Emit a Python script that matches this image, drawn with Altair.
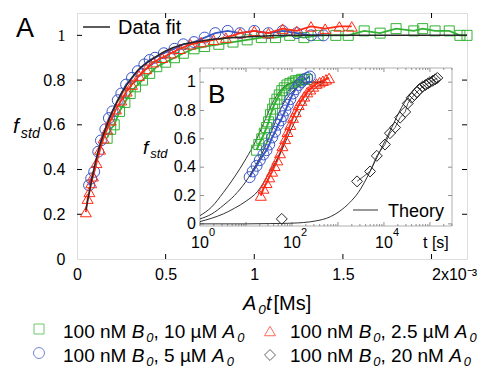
import altair as alt
import pandas as pd

FONT = "Liberation Sans"
GREEN, BLUE, RED, DARK = "#33b233", "#3a55c6", "#ff2b17", "#262626"

# ---------------- panel A (x = A0*t in units of 1e-3 Ms) ----------------
fit_x = [0.05, 0.07, 0.1, 0.13, 0.16, 0.2, 0.25, 0.3, 0.35, 0.4, 0.5, 0.6, 0.7, 0.8, 1.0, 1.2, 1.5, 1.8, 2.2]
fit_y = [0.22, 0.30, 0.42, 0.51, 0.58, 0.66, 0.74, 0.80, 0.85, 0.88, 0.93, 0.96, 0.975, 0.985, 0.995, 1.0, 1.0, 1.0, 1.0]

green_x = [0.17, 0.19, 0.21, 0.24, 0.27, 0.30, 0.33, 0.37, 0.41, 0.45, 0.50, 0.55, 0.60, 0.66, 0.72, 0.80,
           0.88, 0.96, 1.04, 1.12, 1.20, 1.28, 1.36, 1.46, 1.53, 1.62, 1.71, 1.80, 1.90, 1.95, 2.02, 2.10, 2.16, 2.2]
green_y = [0.54, 0.58, 0.60, 0.66, 0.70, 0.74, 0.77, 0.80, 0.83, 0.86, 0.88, 0.90, 0.92, 0.94, 0.95, 0.96,
           0.97, 0.98, 0.99, 0.99, 1.00, 0.99, 1.00, 1.00, 1.00, 1.02, 1.01, 1.03, 1.02, 1.03, 1.02, 1.02, 1.00, 1.0]

blue_x = [0.068, 0.08, 0.097, 0.12, 0.135, 0.16, 0.18, 0.20, 0.23, 0.25, 0.277, 0.31, 0.343, 0.38, 0.41,
          0.44, 0.49, 0.55, 0.60, 0.66, 0.72, 0.78, 0.85, 0.92, 1.00, 1.08, 1.16, 1.24, 1.32, 1.39]
blue_y = [0.33, 0.36, 0.39, 0.48, 0.53, 0.58, 0.63, 0.66, 0.71, 0.74, 0.78, 0.81, 0.84, 0.87, 0.89,
          0.90, 0.92, 0.94, 0.96, 0.97, 0.99, 1.01, 1.02, 1.01, 1.02, 1.01, 1.02, 1.01, 1.00, 1.00]

red_x = [0.05, 0.06, 0.07, 0.08, 0.09, 0.11, 0.13, 0.15, 0.17, 0.19, 0.22, 0.25, 0.28, 0.31, 0.35, 0.39,
         0.43, 0.48, 0.53, 0.58, 0.64, 0.70, 0.77, 0.84, 0.92, 1.00, 1.08, 1.16, 1.24, 1.32, 1.40, 1.48, 1.55]
red_y = [0.21, 0.27, 0.30, 0.34, 0.37, 0.43, 0.49, 0.54, 0.58, 0.62, 0.67, 0.71, 0.75, 0.78, 0.82, 0.85,
         0.88, 0.90, 0.92, 0.94, 0.96, 0.97, 0.98, 0.99, 1.01, 1.02, 1.01, 1.03, 1.02, 1.04, 1.03, 1.04, 1.04]

MAIN_XTICKS = [0, 0.5, 1, 1.5, 2]
MAIN_YTICKS = [0, 0.2, 0.4, 0.6, 0.8, 1]

# ---------------- panel B (inset, t in seconds) ----------------
in_green_t = [17, 19, 22, 25, 28, 31, 34, 38, 42, 47, 53, 60, 68, 78, 90, 105, 120, 140, 160, 185, 215]
in_green_f = [0.52, 0.56, 0.60, 0.64, 0.68, 0.72, 0.77, 0.81, 0.85, 0.88, 0.91, 0.94, 0.96, 0.98, 0.99,
              1.00, 1.01, 1.01, 1.02, 1.02, 1.02]

in_blue_t = [12, 14, 17, 20, 24, 28, 32, 37, 43, 50, 57, 63, 72, 81, 92, 105, 120, 140, 160, 185, 215, 245]
in_blue_f = [0.33, 0.37, 0.41, 0.45, 0.49, 0.52, 0.56, 0.61, 0.65, 0.70, 0.73, 0.76, 0.80, 0.84, 0.88,
             0.92, 0.95, 0.98, 1.00, 1.02, 1.03, 1.04]

in_red_t = [21, 24, 28, 32, 37, 42, 48, 55, 62, 71, 80, 92, 105, 120, 140, 160, 185, 215, 250, 290, 340,
            400, 470, 550, 640]
in_red_f = [0.20, 0.25, 0.29, 0.33, 0.37, 0.41, 0.45, 0.50, 0.55, 0.60, 0.65, 0.70, 0.75, 0.79, 0.84,
            0.87, 0.90, 0.93, 0.95, 0.97, 0.99, 1.00, 1.01, 1.02, 1.03]

in_black_t = [60, 2600, 5000, 7000, 10500, 13500, 17500, 22500, 29000, 33000, 40000, 46000, 52000,
              60000, 70000, 80000, 90000, 100000, 115000, 130000, 145000]
in_black_f = [0.035, 0.30, 0.37, 0.48, 0.56, 0.64, 0.68, 0.75, 0.79, 0.85, 0.89, 0.91, 0.93,
              0.95, 0.97, 0.98, 0.99, 1.00, 1.01, 1.02, 1.03]

th1_t = [1, 1.8, 3.2, 5.6, 10, 16, 25, 40, 63, 100, 160, 525]
th1_f = [0.058, 0.12, 0.22, 0.33, 0.46, 0.58, 0.72, 0.87, 0.96, 0.995, 1.0, 1.0]
th2_t = [1, 1.8, 3.2, 5.6, 10, 16, 25, 40, 63, 100, 160, 250, 525]
th2_f = [0.035, 0.07, 0.13, 0.20, 0.30, 0.41, 0.53, 0.69, 0.84, 0.93, 0.98, 1.0, 1.0]
th3_t = [1, 1.8, 3.2, 5.6, 10, 18, 32, 56, 100, 160, 250, 400, 525]
th3_f = [0.016, 0.04, 0.07, 0.11, 0.16, 0.23, 0.36, 0.50, 0.68, 0.81, 0.92, 0.98, 1.0]
th4_t = [1, 10, 32, 100, 320, 680, 1100, 1800, 2750, 5000, 8100, 14800, 24000, 43600, 60000, 80000]
th4_f = [0, 0, 0.002, 0.005, 0.02, 0.05, 0.09, 0.15, 0.22, 0.37, 0.51, 0.68, 0.82, 0.94, 0.99, 1.0]

IN_YTICKS = [0, 0.2, 0.4, 0.6, 0.8, 1]
IN_YLABELS = ["0", "0.2", "0.4", "0.6", "0.8", "1"]
IN_XTICKS = [1, 100, 10000]
IN_XEXP = ["0", "2", "4"]

# ---------------- geometry ----------------
W, H = 390, 246
IN_X0, IN_X1, IN_YB, IN_YT = 123, 375, 213, 55
IN_TMIN, IN_TMAX = 1, 302000
IN_FMIN, IN_FMAX = -0.015, 1.1

one = alt.Data(values=[{"k": 1}])
NB = "\u00a0"


def df(x, y):
    return pd.DataFrame({"x": x, "y": y})


x_axis = alt.Axis(values=MAIN_XTICKS, labelExpr="datum.value == 2 ? '2x10⁻³' : format(datum.value, '~g')",
                  labelAlign={"condition": {"test": "datum.value == 2", "value": "left"}, "value": "center"},
                  labelFont=FONT, labelFontSize=16, labelColor="black", labelPadding=7, labelFlush=False,
                  labelOverlap=False, ticks=False, domain=False, grid=False, title=None)
y_axis = alt.Axis(values=MAIN_YTICKS, labelExpr="format(datum.value, '~g')",
                  labelFont={"condition": {"test": "datum.value == 1", "value": "Liberation Serif"}, "value": FONT},
                  labelFontSize=16, labelColor="black", labelPadding=12, labelFlush=False, labelOverlap=False,
                  ticks=False, domain=False, grid=False, title=None)
mxs = alt.Scale(domain=[0, 2.2], nice=False, zero=False)
mys = alt.Scale(domain=[0, 1.1], nice=False, zero=False)


def mx(f):
    return alt.X(f, type="quantitative", scale=mxs, axis=x_axis)


def my(f):
    return alt.Y(f, type="quantitative", scale=mys, axis=y_axis)


ixs = alt.Scale(type="log", domain=[IN_TMIN, IN_TMAX], range=[IN_X0, IN_X1], nice=False)
iys = alt.Scale(domain=[IN_FMIN, IN_FMAX], range=[IN_YB, IN_YT], nice=False, zero=False)


def ix(f):
    return alt.X(f, type="quantitative", scale=ixs, axis=None)


def iy(f):
    return alt.Y(f, type="quantitative", scale=iys, axis=None)


ADV = {"0": .556, "1": .556, "2": .556, "5": .556, " ": .278, NB: .278, "n": .556, "M": .833, "B": .667,
       "A": .667, ",": .278, "µ": .576, ".": .278, "t": .278, "[": .278, "]": .278, "s": .5, "d": .556, "f": .278}


def adv(s, size):
    return sum(ADV.get(c, .556) for c in s) * size


def rich(parts, x0, base, size):
    out = []
    x = x0
    for txt, kind in parts:
        txt = txt.replace(" ", NB)
        sub = kind == "si"
        fs = size * 0.68 if sub else size
        dy = size * 0.22 if sub else 0
        style = "normal" if kind == "n" else "italic"
        out.append(alt.Chart(one).mark_text(text=txt, align="left", baseline="alphabetic", font=FONT,
                                            fontSize=fs, fontStyle=style, color="black")
                   .encode(x=alt.value(x), y=alt.value(base + dy)))
        x += adv(txt, fs) + (2 if kind == "i" else 0)
    return out


def pts(d, shape, color, size, xf, yf):
    return alt.Chart(d).mark_point(shape=shape, filled=False, size=size, color=color, strokeWidth=1,
                                   opacity=1).encode(x=xf("x"), y=yf("y"))


def line(d, color, width, xf, yf, interp="linear"):
    return alt.Chart(d).mark_line(color=color, strokeWidth=width, interpolate=interp).encode(
        x=xf("x"), y=yf("y"))


# ---------------- main layers ----------------
xt = pd.DataFrame({"x": MAIN_XTICKS[1:]})
yt = pd.DataFrame({"y": MAIN_YTICKS[1:]})
main = [
    alt.Chart(xt).mark_rule(color="black").encode(x=mx("x"), y=alt.value(0), y2=alt.value(5)),
    alt.Chart(xt).mark_rule(color="black").encode(x=mx("x"), y=alt.value(H), y2=alt.value(H - 5)),
    alt.Chart(yt).mark_rule(color="black").encode(y=my("y"), x=alt.value(0), x2=alt.value(5)),
    alt.Chart(yt).mark_rule(color="black").encode(y=my("y"), x=alt.value(W), x2=alt.value(W - 5)),
]
for xs, ys, shp, col, sz in [(green_x, green_y, "square", GREEN, 100),
                             (blue_x, blue_y, "circle", BLUE, 120),
                             (red_x, red_y, "triangle-up", RED, 120)]:
    d = df(xs, ys)
    main.append(line(d, col, 1.8, mx, my))
    main.append(pts(d, shp, col, sz, mx, my))
main.append(line(df(fit_x, fit_y), DARK, 1.5, mx, my, "monotone"))

# legend "Data fit" and panel label A
main.append(alt.Chart(one).mark_rule(color=DARK, strokeWidth=1.5).encode(
    x=alt.value(6), x2=alt.value(33), y=alt.value(14)))
main.append(alt.Chart(one).mark_text(text="Data fit", align="left", baseline="alphabetic", font=FONT,
                                     fontSize=20, color="black").encode(x=alt.value(41), y=alt.value(21)))
main.append(alt.Chart(one).mark_text(text="A", align="left", baseline="alphabetic", font=FONT,
                                     fontSize=27, color="black").encode(x=alt.value(-61), y=alt.value(24)))
# axis titles
main += rich([("f", "i"), ("std", "si")], -64, 120, 21)
main += rich([("A", "i"), ("0", "si"), ("t", "i"), ("  [Ms]", "n")], 166, 297, 20)

# bottom legend
legend_items = [
    ("square", GREEN, 100, -38, 316, -14, 325, "10 µM "),
    ("circle", BLUE, 120, -38, 340, -14, 349, "5 µM "),
    ("triangle-up", RED, 120, 193, 318, 213, 325, "2.5 µM "),
    ("diamond", DARK, 120, 193, 342, 213, 349, "20 nM "),
]
for shp, col, sz, sx, sy, tx, ty, conc in legend_items:
    main.append(alt.Chart(one).mark_point(shape=shp, filled=False, size=sz, color=col, strokeWidth=1)
                .encode(x=alt.value(sx), y=alt.value(sy)))
    main += rich([("100 nM ", "n"), ("B", "i"), ("0", "si"), (", " + conc, "n"), ("A", "i"), ("0", "si")],
                 tx, ty, 19)

# ---------------- inset layers ----------------
frame = pd.DataFrame({"x": [IN_TMIN], "x2": [IN_TMAX], "y": [IN_FMIN], "y2": [IN_FMAX]})
inset = [alt.Chart(frame).mark_rect(fill="white", stroke="#b0b0b0", strokeWidth=1).encode(
    x=ix("x"), x2="x2", y=iy("y"), y2="y2")]

major = [1, 10, 100, 1000, 10000, 100000]
minor = [m * p for p in [1, 10, 100, 1000, 10000, 100000] for m in range(2, 10) if m * p < IN_TMAX]
iyt = pd.DataFrame({"y": IN_YTICKS})
for vals, ln in [(major, 4), (minor, 2)]:
    d = pd.DataFrame({"x": vals})
    inset.append(alt.Chart(d).mark_rule(color="#909090").encode(x=ix("x"), y=alt.value(IN_YB),
                                                                 y2=alt.value(IN_YB - ln)))
    inset.append(alt.Chart(d).mark_rule(color="#909090").encode(x=ix("x"), y=alt.value(IN_YT),
                                                                 y2=alt.value(IN_YT + ln)))
inset.append(alt.Chart(iyt).mark_rule(color="#909090").encode(y=iy("y"), x=alt.value(IN_X0),
                                                               x2=alt.value(IN_X0 + 4)))
inset.append(alt.Chart(iyt).mark_rule(color="#909090").encode(y=iy("y"), x=alt.value(IN_X1),
                                                               x2=alt.value(IN_X1 - 4)))

series_in = [(in_green_t, in_green_f, "square", GREEN, 100),
             (in_blue_t, in_blue_f, "circle", BLUE, 120),
             (in_red_t, in_red_f, "triangle-up", RED, 120),
             (in_black_t, in_black_f, "diamond", DARK, 120)]
for ts, fs, shp, col, sz in series_in[:3]:
    inset.append(line(df(ts, fs), col, 2, ix, iy))
inset.append(line(df(in_black_t[1:], in_black_f[1:]), "#555555", 1, ix, iy))
for ts, fs in [(th1_t, th1_f), (th2_t, th2_f), (th3_t, th3_f), (th4_t, th4_f)]:
    inset.append(line(df(ts, fs), "#333333", 1, ix, iy, "monotone"))
for ts, fs, shp, col, sz in series_in:
    inset.append(pts(df(ts, fs), shp, col, sz, ix, iy))

# inset tick labels
inset.append(alt.Chart(pd.DataFrame({"y": IN_YTICKS, "lab": IN_YLABELS})).mark_text(
    align="right", baseline="middle", font=FONT, fontSize=16, color="black").encode(
    y=iy("y"), x=alt.value(IN_X0 - 4), text="lab:N"))
xl = pd.DataFrame({"x": IN_XTICKS, "e": IN_XEXP})
inset.append(alt.Chart(xl).mark_text(text="10", align="center", baseline="alphabetic", font=FONT,
                                     fontSize=16, color="black").encode(x=ix("x"), y=alt.value(235)))
inset.append(alt.Chart(xl).mark_text(align="left", baseline="alphabetic", font=FONT, dx=9,
                                     fontSize=11, color="black").encode(x=ix("x"), y=alt.value(223), text="e:N"))
inset.append(alt.Chart(one).mark_text(text="t [s]", align="left", baseline="alphabetic", font=FONT,
                                      fontSize=16, color="black").encode(x=alt.value(346), y=alt.value(235)))
inset.append(alt.Chart(one).mark_text(text="B", align="left", baseline="alphabetic", font=FONT,
                                      fontSize=26, color="black").encode(x=alt.value(131), y=alt.value(90)))
inset.append(alt.Chart(one).mark_rule(color="#333333", strokeWidth=1).encode(
    x=alt.value(276), x2=alt.value(301), y=alt.value(197)))
inset.append(alt.Chart(one).mark_text(text="Theory", align="left", baseline="alphabetic", font=FONT,
                                      fontSize=18, color="black").encode(x=alt.value(311), y=alt.value(204)))
inset += rich([("f", "i"), ("std", "si")], 66, 141, 19)

chart = alt.layer(alt.layer(*main), alt.layer(*inset)).resolve_scale(
    x="independent", y="independent"
).properties(
    width=W, height=H,
    autosize=alt.AutoSizeParams(type="none"),
    padding={"left": 69, "top": 5, "right": 10, "bottom": 110},
).configure_view(stroke="black", strokeWidth=2).configure(font=FONT)

chart.save("out.html", embed_options={"renderer": "svg", "actions": False})
